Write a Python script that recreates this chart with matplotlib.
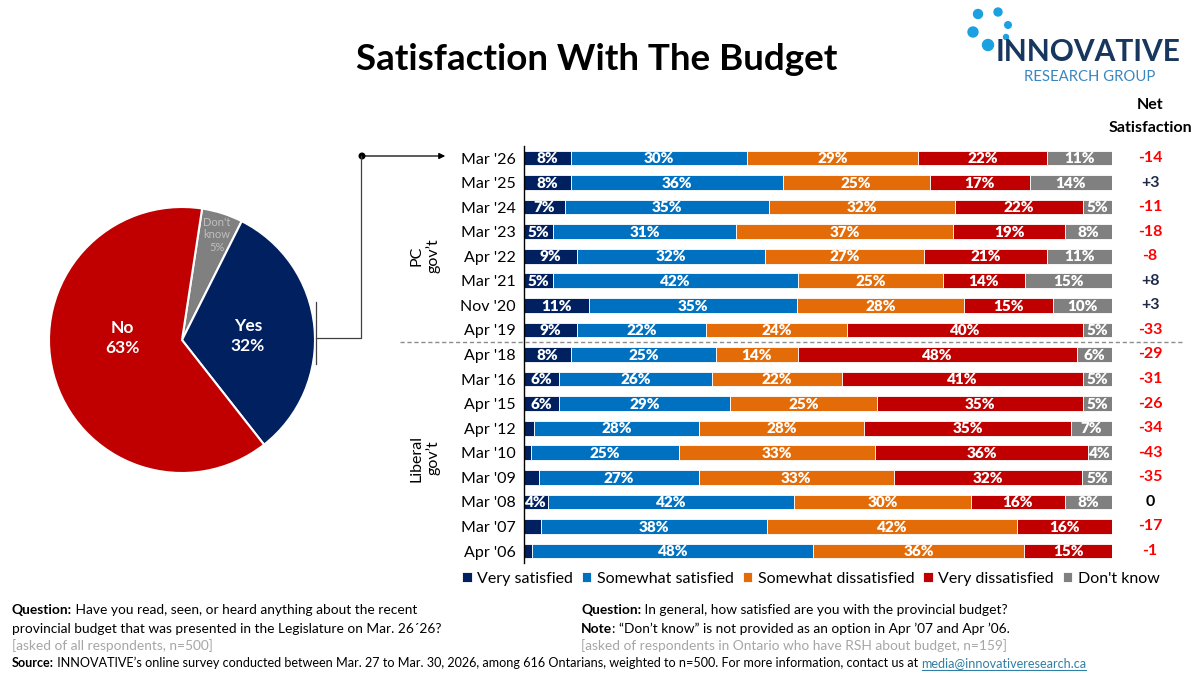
import matplotlib
matplotlib.use("Agg")
import matplotlib.pyplot as plt
from matplotlib.patches import Circle
import numpy as np

plt.rcParams['font.family'] = ['Lato', 'DejaVu Sans']

# ---------------- data ----------------
periods = ["Mar '26", "Mar '25", "Mar '24", "Mar '23", "Apr '22", "Mar '21", "Nov '20", "Apr '19",
           "Apr '18", "Mar '16", "Apr '15", "Apr '12", "Mar '10", "Mar '09", "Mar '08", "Mar '07", "Apr '06"]
very_satisfied = [8, 8, 7, 5, 9, 5, 11, 9, 8, 6, 6, 1.7, 1.2, 2.6, 4, 2.9, 1.4]
somewhat_satisfied = [30, 36, 35, 31, 32, 42, 35, 22, 25, 26, 29, 28, 25, 27, 42, 38, 48]
somewhat_dissatisfied = [29, 25, 32, 37, 27, 25, 28, 24, 14, 22, 25, 28, 33, 33, 30, 42, 36]
very_dissatisfied = [22, 17, 22, 19, 21, 14, 15, 40, 48, 41, 35, 35, 36, 32, 16, 16, 15]
dont_know = [11, 14, 5, 8, 11, 15, 10, 5, 6, 5, 5, 7, 4, 5, 8, 0, 0]
net_satisfaction = ["-14", "+3", "-11", "-18", "-8", "+8", "+3", "-33",
                    "-29", "-31", "-26", "-34", "-43", "-35", "0", "-17", "-1"]
series_names = ["Very satisfied", "Somewhat satisfied", "Somewhat dissatisfied", "Very dissatisfied", "Don't know"]
series_colors = ["#002060", "#0070C0", "#E36C09", "#C00000", "#808080"]

pie_labels = ["Don't\nknow", "Yes", "No"]
pie_values = [5, 32, 63]
pie_colors = ["#808080", "#002060", "#C00000"]

W, H = 1200, 675
fig = plt.figure(figsize=(12, 6.75), dpi=100)
fig.patch.set_facecolor("white")

# overlay axes in pixel coords
ov = fig.add_axes([0, 0, 1, 1], zorder=3)
ov.set_xlim(0, W)
ov.set_ylim(H, 0)
ov.axis("off")
ov.patch.set_alpha(0)

# ---------------- bar chart (100% stacked) ----------------
row_top, row_bot = 158, 551
n = len(periods)
step = (row_bot - row_top) / (n - 1)
ax_top = row_top - step / 2
ax_bot = row_bot + step / 2
x_left, x_right = 524, 1112
ax = fig.add_axes([x_left / W, 1 - ax_bot / H, (x_right - x_left) / W, (ax_bot - ax_top) / H], zorder=2)
ax.patch.set_alpha(0)
y = np.arange(n)
series = [np.array(s, dtype=float) for s in
          [very_satisfied, somewhat_satisfied, somewhat_dissatisfied, very_dissatisfied, dont_know]]
row_total = np.sum(series, axis=0)
left = np.zeros(n)
for vals, col, name in zip(series, series_colors, series_names):
    share = vals / row_total * 100
    ax.barh(y, share, left=left, height=0.6, color=col, edgecolor="white", linewidth=0.6, label=name)
    for yi, (l, w, v) in enumerate(zip(left, share, vals)):
        if v >= 3.5:
            ax.text(l + w / 2, yi + 0.03, f"{int(round(v))}%", ha="center", va="center",
                    color="white", fontsize=11, fontweight="heavy")
    left += share
ax.set_xlim(0, 100)
ax.set_ylim(n - 0.5, -0.5)
ax.set_yticks(y)
ax.set_yticklabels(periods, fontsize=11.5)
ax.tick_params(axis="y", length=0, pad=6)
ax.set_xticks([])
for s in ["top", "right", "bottom"]:
    ax.spines[s].set_visible(False)
ax.spines["left"].set_color("black")
ax.spines["left"].set_linewidth(1.0)

# net satisfaction column
for yi, val in enumerate(net_satisfaction):
    col = "#FF0000" if val.startswith("-") else ("#1F2A4A" if val.startswith("+") else "black")
    ov.text(1150, row_top + yi * step, val, ha="center", va="center", fontsize=11.5,
            fontweight="bold", color=col)
ov.text(1150, 105, "Net", ha="center", va="center", fontsize=11.5, fontweight="bold")
ov.text(1150, 128, "Satisfaction", ha="center", va="center", fontsize=11.5, fontweight="bold")

# separator
sep_y = row_top + 7.5 * step
ov.plot([400, 1183], [sep_y, sep_y], ls=(0, (3, 2)), color="#8C8C8C", lw=1)

# group labels
ov.text(425, 256, "PC\ngov\u2019t", rotation=90, ha="center", va="center", fontsize=11.5,
        linespacing=1.1, multialignment="center")
ov.text(425, 458, "Liberal\ngov\u2019t", rotation=90, ha="center", va="center", fontsize=11.5,
        linespacing=1.1, multialignment="center")

# legend
handles, labels = ax.get_legend_handles_labels()
fig.legend(handles, labels, loc="center left", bbox_to_anchor=(462 / W, 1 - 579 / H), ncol=5,
           frameon=False, fontsize=11.5, handlelength=0.6, handleheight=0.6, handletextpad=0.35,
           columnspacing=0.55, borderaxespad=0, borderpad=0)

# ---------------- pie ----------------
cx, cy, r = 182, 340, 133
pax = fig.add_axes([(cx - r) / W, 1 - (cy + r) / H, 2 * r / W, 2 * r / H], zorder=2)
pax.pie(pie_values, colors=pie_colors, startangle=81.3, counterclock=False,
        wedgeprops=dict(edgecolor="white", linewidth=1.5))
pax.set_xlim(-1.0, 1.0)
pax.set_ylim(-1.0, 1.0)
pax.set_aspect("equal")
ov.text(122, 338, f"{pie_labels[2]}\n{pie_values[2]}%", ha="center", va="center", color="white",
        fontsize=12.5, fontweight="bold", linespacing=1.35)
ov.text(248, 336, f"{pie_labels[1]}\n{pie_values[1]}%", ha="center", va="center", color="white",
        fontsize=12.5, fontweight="bold", linespacing=1.35)
ov.text(217, 235, f"{pie_labels[0]}\n{pie_values[0]}%", ha="center", va="center", color="#BFBFBF",
        fontsize=8, linespacing=1.2)

# connector
ov.plot([316, 316], [302, 364], color="#404040", lw=0.9)
ov.plot([316, 361, 361], [338, 338, 156], color="#404040", lw=0.9)
ov.annotate("", xy=(448, 156), xytext=(361, 156),
            arrowprops=dict(arrowstyle="-|>", color="black", lw=0.9, mutation_scale=9))
ov.add_patch(Circle((362, 156), 2.8, color="black"))

# ---------------- title & logo ----------------
ov.text(597, 60, "Satisfaction With The Budget", ha="center", va="center", fontsize=26.5,
        fontweight="bold")
for (dx, dy, rr) in [(978, 14, 4.5), (998, 12, 4), (1008, 25, 3.3), (973, 32, 5), (1006, 37, 2.5), (988, 45, 5.5)]:
    ov.add_patch(Circle((dx, dy), rr, color="#1BA1E2"))
ov.text(1088, 52, "INNOVATIVE", ha="center", va="center", fontsize=21.5, fontweight="bold",
        color="#17375E")
ov.text(1090, 77, "RESEARCH GROUP", ha="center", va="center", fontsize=10.7, color="#3A87C0")

# ---------------- footnotes ----------------
fig.canvas.draw()
renderer = fig.canvas.get_renderer()
inv = ov.transData.inverted()


def rich(x, yy, parts, fs=9.9, underline_last=False):
    x0 = x
    for txt, weight, col in parts:
        x0 = x
        t = ov.text(x, yy, txt, fontsize=fs, va="center", ha="left", fontweight=weight, color=col)
        bb = t.get_window_extent(renderer=renderer)
        x = inv.transform((bb.x1, bb.y0))[0]
    if underline_last:
        ov.plot([x0 + 1, x - 1], [yy + 6.5, yy + 6.5], color=parts[-1][2], lw=0.8)
    return x


rich(12, 610, [("Question:", "bold", "black"),
               (" Have you read, seen, or heard anything about the recent", "normal", "black")])
rich(12, 629, [("provincial budget that was presented in the Legislature on Mar. 26\u00b426?", "normal", "black")])
rich(12, 646, [("[asked of all respondents, n=500]", "normal", "#A6A6A6")])
rich(581, 610, [("Question:", "bold", "black"),
                (" In general, how satisfied are you with the provincial budget?", "normal", "black")])
rich(581, 629, [("Note", "bold", "black"),
                (": \u201cDon\u2019t know\u201d is not provided as an option in Apr \u201907 and Apr \u201906.", "normal", "black")])
rich(581, 646, [("[asked of respondents in Ontario who have RSH about budget, n=159]", "normal", "#A6A6A6")])
rich(12, 663, [("Source:", "bold", "black"),
               (" INNOVATIVE\u2019s online survey conducted between Mar. 27 to Mar. 30, 2026, among 616 Ontarians, weighted to n=500. For more information, contact us at ", "normal", "black"),
               ("media@innovativeresearch.ca", "normal", "#2F7FA6")], fs=9.05, underline_last=True)

fig.savefig("out.png", dpi=100, facecolor="white")
